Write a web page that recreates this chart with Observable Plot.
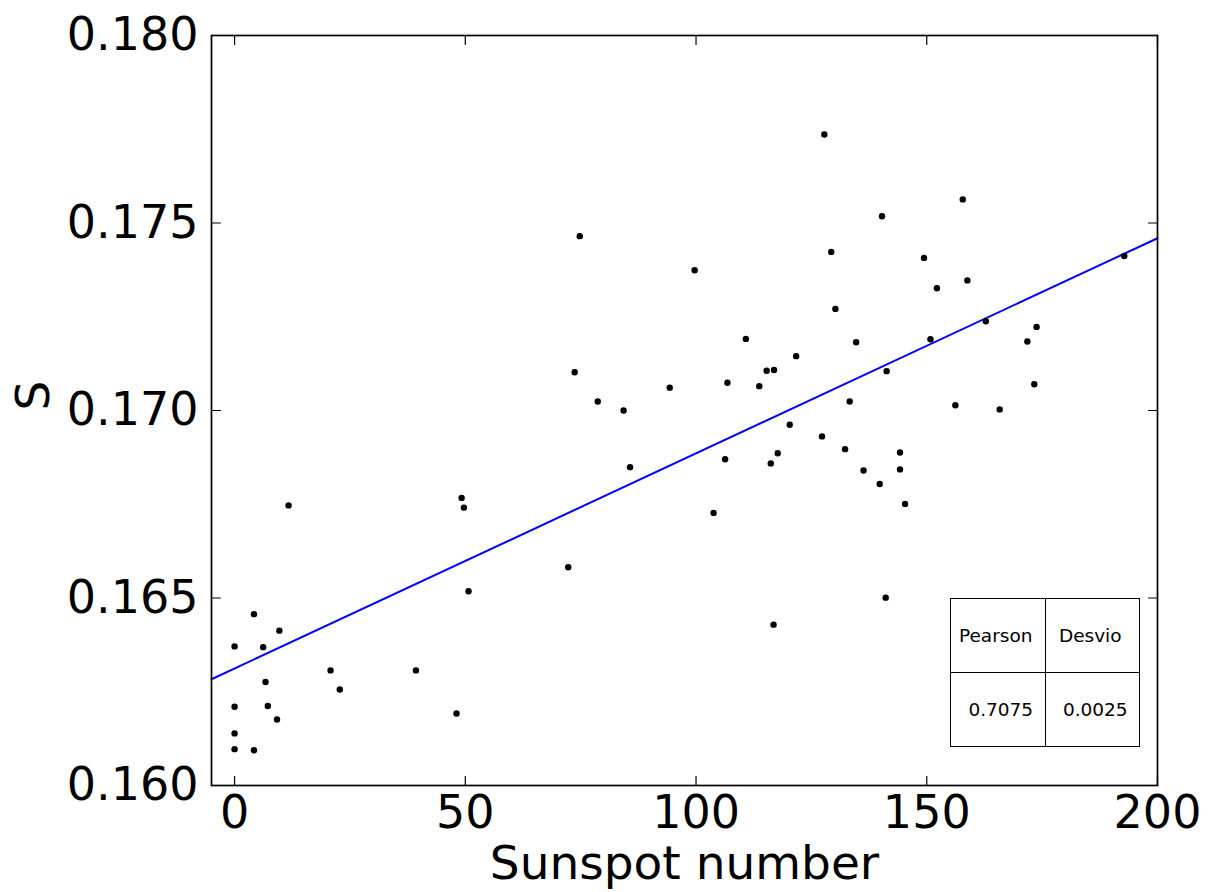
<!DOCTYPE html>
<html><head><meta charset="utf-8">
<script src="https://cdn.jsdelivr.net/npm/d3@7"></script>
<script src="https://cdn.jsdelivr.net/npm/@observablehq/plot@0.6"></script>
<style>
body{margin:0;background:#fff;font-family:"DejaVu Sans",sans-serif;}
#wrap{position:relative;width:1210px;height:892px;}
#stats{position:absolute;left:950px;top:598px;width:190px;height:149px;border-collapse:collapse;table-layout:fixed;font-size:18.5px;font-family:"DejaVu Sans",sans-serif;background:#fff;}
#stats td{border:1.5px solid #000;text-align:center;padding:0;width:50%;height:50%;}
#stats tr.head td{padding-right:4px;}
#stats tr.vals td{padding-left:6px;}
</style></head><body><div id="wrap"></div>
<script>
const sunspot = [0, 0, 0, 0, 4.2, 4.2, 6.2, 6.7, 7.2, 9.2, 9.7, 11.7, 20.8, 22.8, 39.3, 48.1, 49.2, 49.7, 50.7,
  72.3, 73.7, 74.8, 78.7, 84.3, 85.7, 94.3, 99.7, 103.8, 106.3, 106.8, 110.8, 113.7, 115.3, 116.2, 116.8, 116.9,
  117.7, 120.3, 121.7, 127.3, 127.8, 129.3, 130.2, 132.3, 133.3, 134.7, 136.3, 139.8, 140.3, 141.1, 141.3, 144.2,
  144.2, 145.3, 149.4, 150.8, 152.2, 156.2, 157.8, 158.8, 162.8, 165.8, 171.8, 173.3, 173.8, 192.8];
const sValue = [0.16371, 0.16210, 0.16139, 0.16097, 0.16457, 0.16094, 0.16369, 0.16276, 0.16212, 0.16176, 0.16413,
  0.16747, 0.16307, 0.16256, 0.16307, 0.16192, 0.16767, 0.16741, 0.16518, 0.16582, 0.17102, 0.17465, 0.17024,
  0.17000, 0.16849, 0.17061, 0.17374, 0.16727, 0.16870, 0.17074, 0.17191, 0.17065, 0.17106, 0.16859, 0.16429,
  0.17108, 0.16886, 0.16962, 0.17145, 0.16931, 0.17736, 0.17423, 0.17271, 0.16897, 0.17024, 0.17182, 0.16840,
  0.16804, 0.17518, 0.16501, 0.17105, 0.16888, 0.16843, 0.16751, 0.17407, 0.17190, 0.17326, 0.17014, 0.17563,
  0.17347, 0.17238, 0.17003, 0.17184, 0.17070, 0.17223, 0.17412];
const fitIntercept = 0.16312;
const fitSlope = 0.00005737;
const fitX = [-5, 200];
const xTicks = [0, 50, 100, 150, 200];
const yTicks = [0.160, 0.165, 0.170, 0.175, 0.180];
const xLabel = "Sunspot number";
const yLabel = "S";
const statHeaders = ["Pearson", "Desvio"];
const statValues = ["0.7075", "0.0025"];

const points = sunspot.map((x, i) => ({x, y: sValue[i]}));
const fitLine = fitX.map(x => ({x, y: fitIntercept + fitSlope * x}));
const tickShape = {draw(ctx, l) { ctx.moveTo(0, 0); ctx.lineTo(0, -l); }};
const inTicks = (data, channel, frameAnchor, rotate) => Plot.vector(data, {
  [channel]: d => d, frameAnchor, rotate, length: 9, anchor: "start", shape: tickShape,
  stroke: "black", strokeWidth: 1.2
});

const chart = Plot.plot({
  width: 1210, height: 892,
  marginLeft: 211, marginRight: 53, marginTop: 35, marginBottom: 107,
  style: {fontFamily: "DejaVu Sans", background: "#fff", color: "black"},
  x: {domain: [-5, 200]},
  y: {domain: [0.160, 0.180]},
  marks: [
    Plot.line(fitLine, {x: "x", y: "y", stroke: "#0000ff", strokeWidth: 2}),
    Plot.dot(points, {x: "x", y: "y", r: 3.2, fill: "black", stroke: "none"}),
    inTicks(xTicks, "x", "bottom", 0),
    inTicks(xTicks, "x", "top", 180),
    inTicks(yTicks, "y", "left", 90),
    inTicks(yTicks, "y", "right", -90),
    Plot.axisX({ticks: xTicks, tickSize: 0, tickPadding: 10, fontSize: 46, label: null, tickFormat: d => String(d)}),
    Plot.axisY({ticks: yTicks, tickSize: 0, tickPadding: 13, fontSize: 46, label: null, tickFormat: d3.format(".3f")}),
    Plot.text([xLabel], {text: d => d, frameAnchor: "bottom", dy: 93, fontSize: 47, fill: "black"}),
    Plot.text([yLabel], {text: d => d, frameAnchor: "left", dx: -178, rotate: -90, fontSize: 47, fill: "black"}),
    Plot.frame({stroke: "black", strokeWidth: 1.7})
  ]
});
const wrap = document.getElementById("wrap");
wrap.appendChild(chart);
const table = document.createElement("table");
table.id = "stats";
table.innerHTML = `<tr class="head">${statHeaders.map(h => `<td>${h}</td>`).join("")}</tr>` +
  `<tr class="vals">${statValues.map(v => `<td>${v}</td>`).join("")}</tr>`;
wrap.appendChild(table);
</script></body></html>
